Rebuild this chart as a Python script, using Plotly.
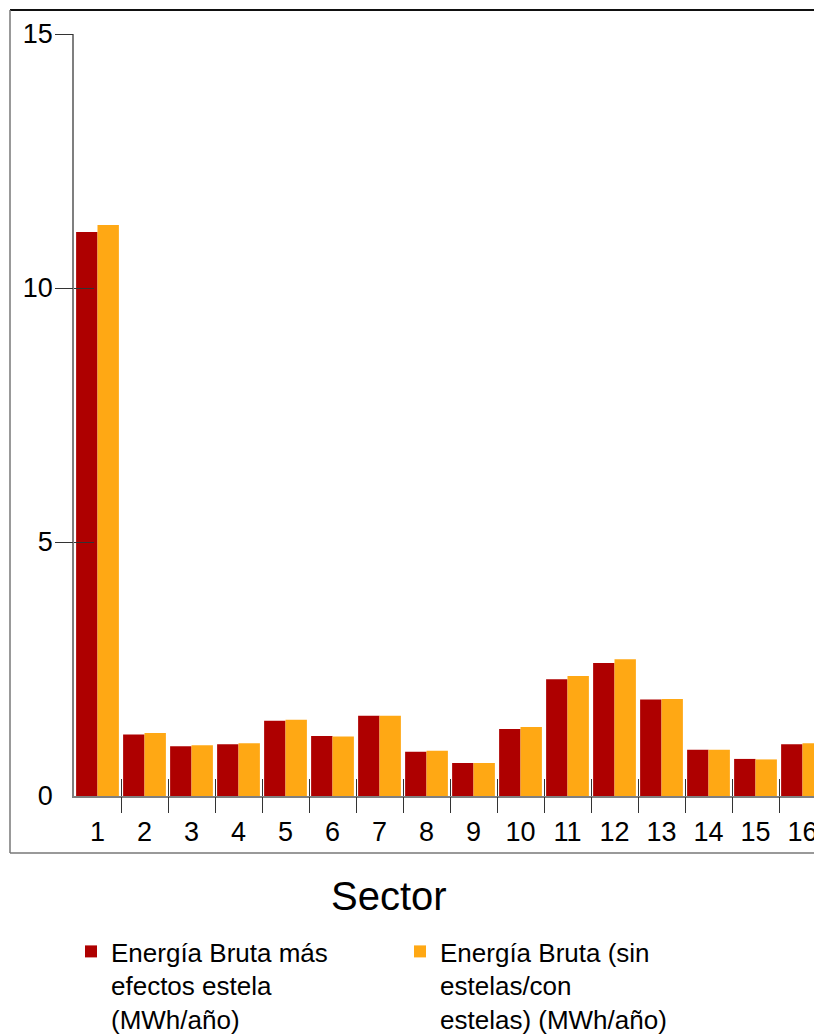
import plotly.graph_objects as go

sectors = [str(i) for i in range(1, 17)]
energia_estela = [11.10, 1.21, 0.98, 1.02, 1.48, 1.18, 1.58, 0.87, 0.65, 1.32, 2.30, 2.62, 1.90, 0.91, 0.73, 1.02]
energia_bruta = [11.24, 1.24, 1.00, 1.04, 1.50, 1.17, 1.58, 0.89, 0.65, 1.36, 2.36, 2.69, 1.91, 0.91, 0.72, 1.04]
name_estela = "Energía Bruta más<br>efectos estela<br>(MWh/año)"
name_bruta = "Energía Bruta (sin<br>estelas/con<br>estelas) (MWh/año)"
y_ticks = [0, 5, 10, 15]
x_title = "Sector"

RED = "rgb(174,0,0)"
ORANGE = "rgb(255,168,20)"
FONT = "Liberation Sans, Arial, sans-serif"

W, H = 822, 1034
L, R, T, B = 66, 4, 26, 246
PW = W - L - R
PH = H - T - B
BOTTOM = T + PH
xr = [-0.5, 15.5]
yr = [0, 15]


def px_x(p):
    return (p - L) / PW


def px_y(p):
    return (BOTTOM - p) / PH


fig = go.Figure()
fig.add_trace(go.Bar(x=sectors, y=energia_estela, name=name_estela, marker_color=RED,
                     marker_line_width=0))
fig.add_trace(go.Bar(x=sectors, y=energia_bruta, name=name_bruta, marker_color=ORANGE,
                     marker_line_width=0))
# empty helper traces so the overlaid tick-only axes are drawn
for xa, ya in [("x2", "y"), ("x3", "y"), ("x", "y2"), ("x", "y3")]:
    fig.add_trace(go.Scatter(x=[], y=[], xaxis=xa, yaxis=ya, showlegend=False,
                             hoverinfo="skip", mode="markers"))

boundaries = [i + 0.5 for i in range(len(sectors) - 1)]
tick_common = dict(showticklabels=False, showgrid=False, zeroline=False, showline=False,
                   tickwidth=1.2, tickcolor="#333")

fig.update_layout(
    width=W, height=H,
    margin=dict(l=L, r=R, t=T, b=B, pad=0, autoexpand=False),
    paper_bgcolor="white", plot_bgcolor="white",
    barmode="group", bargap=0.09, bargroupgap=0,
    font=dict(family=FONT, color="black", size=27),
    xaxis=dict(type="category", range=xr, showgrid=False, zeroline=False,
               showline=True, linecolor="#7f7f7f", linewidth=1.5,
               ticks="", tickfont=dict(size=27), ticklabelstandoff=11),
    yaxis=dict(range=yr, tickvals=y_ticks, showgrid=False, zeroline=False,
               showline=True, linecolor="#7f7f7f", linewidth=1.5,
               ticks="", tickfont=dict(size=27), ticklabelstandoff=14),
    xaxis2=dict(overlaying="x", anchor="y", side="bottom", range=xr, tickvals=boundaries,
                ticks="outside", ticklen=16, **tick_common),
    xaxis3=dict(overlaying="x", anchor="y", side="bottom", range=xr, tickvals=boundaries,
                ticks="inside", ticklen=17, **tick_common),
    yaxis2=dict(overlaying="y", anchor="x", side="left", range=yr, tickvals=y_ticks[1:],
                ticks="outside", ticklen=18, **tick_common),
    yaxis3=dict(overlaying="y", anchor="x", side="left", range=yr, tickvals=y_ticks[1:],
                ticks="inside", ticklen=20, **tick_common),
    legend=dict(orientation="h", x=px_x(63), xanchor="left", y=px_y(920), yanchor="top",
                entrywidth=284, entrywidthmode="pixels", valign="top",
                font=dict(size=26, family=FONT, color="black"),
                bgcolor="rgba(0,0,0,0)", traceorder="normal"),
    showlegend=True,
    annotations=[dict(text=x_title, x=px_x(380.5), y=px_y(888), xref="paper", yref="paper",
                      xanchor="center", yanchor="middle", showarrow=False,
                      font=dict(size=40, family=FONT, color="black"))],
    shapes=[
        dict(type="line", xref="paper", yref="paper", x0=px_x(2), x1=px_x(840),
             y0=px_y(2), y1=px_y(2), line=dict(color="#111", width=2)),
        dict(type="line", xref="paper", yref="paper", x0=px_x(2), x1=px_x(2),
             y0=px_y(2), y1=px_y(845), line=dict(color="#777", width=1.5)),
        dict(type="line", xref="paper", yref="paper", x0=px_x(2), x1=px_x(840),
             y0=px_y(845), y1=px_y(845), line=dict(color="#777", width=1.5)),
    ],
)

fig.write_html("out.html")
